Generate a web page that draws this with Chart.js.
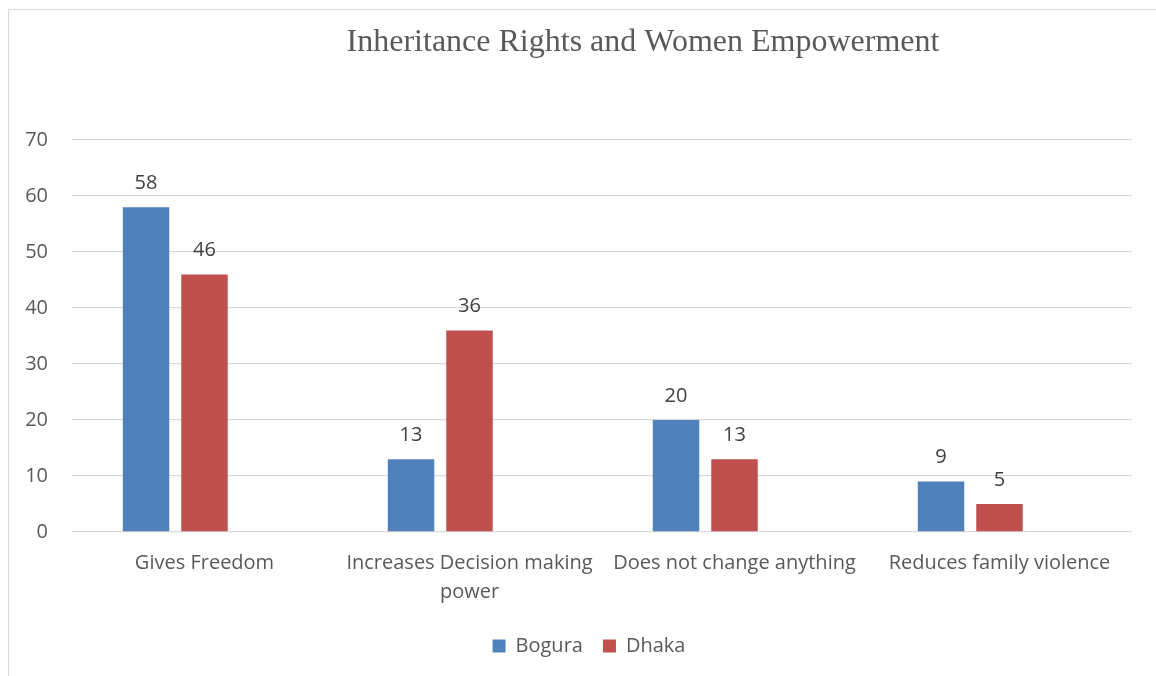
<!DOCTYPE html>
<html>
<head>
<meta charset="utf-8">
<script src="https://cdn.jsdelivr.net/npm/chart.js@4.4.1/dist/chart.umd.min.js"></script>
<style>
  html, body { margin: 0; padding: 0; background: #fff; }
  #wrap { position: relative; width: 1156px; height: 676px; }
  #frame { position: absolute; left: 8px; top: 9px; width: 1160px; height: 680px; border: 1px solid #d9d9d9; box-sizing: border-box; }
  canvas { position: absolute; left: 0; top: 0; }
</style>
</head>
<body>
<div id="wrap">
  <div id="frame"></div>
  <canvas id="chart" width="1156" height="676"></canvas>
</div>
<script>
// Daten
const kategorien = [
    'Gives Freedom',
    ['Increases Decision making', 'power'],
    'Does not change anything',
    'Reduces family violence'
];
const bogura = [58, 13, 20, 9];
const dhaka = [46, 36, 13, 5];
const leer = [null, null, null, null]; // dritte (leere) Reihe wie im Original
const yTicks = [0, 10, 20, 30, 40, 50, 60, 70];

const titelText = 'Inheritance Rights and Women Empowerment';
const schrift = '"Open Sans", "Noto Sans", sans-serif';

// Titel zeichnen (leicht rechts der Mitte wie im Original)
const titelPlugin = {
    id: 'titel',
    afterDraw(chart) {
        const ctx = chart.ctx;
        ctx.save();
        ctx.font = '32px "Liberation Serif", "Times New Roman", serif';
        ctx.fillStyle = '#595959';
        ctx.textAlign = 'center';
        ctx.textBaseline = 'middle';
        ctx.fillText(titelText, 643, 43);
        ctx.restore();
    }
};

// Legende etwas nach rechts schieben
const legendeVerschieben = {
    id: 'legendeVerschieben',
    afterLayout(chart) {
        if (chart.legend) {
            chart.legend.left += 23;
            chart.legend.right += 23;
        }
    }
};

// Werte über den Balken
const wertePlugin = {
    id: 'werte',
    afterDatasetsDraw(chart) {
        const ctx = chart.ctx;
        ctx.save();
        ctx.font = '20px ' + schrift;
        ctx.fillStyle = '#404040';
        ctx.textAlign = 'center';
        ctx.textBaseline = 'middle';
        chart.data.datasets.forEach((ds, i) => {
            const meta = chart.getDatasetMeta(i);
            meta.data.forEach((bar, j) => {
                if (ds.data[j] == null) return;
                ctx.fillText(ds.data[j], bar.x, bar.y - 24);
            });
        });
        ctx.restore();
    }
};

const ctx = document.getElementById('chart').getContext('2d');
new Chart(ctx, {
    type: 'bar',
    data: {
        labels: kategorien,
        datasets: [
            { label: 'Bogura', data: bogura, backgroundColor: '#4f81bd' },
            { label: 'Dhaka', data: dhaka, backgroundColor: '#c0504d' },
            { label: '', data: leer, backgroundColor: '#9bbb59' }
        ]
    },
    options: {
        responsive: false,
        animation: false,
        datasets: {
            bar: { categoryPercentage: 0.662, barPercentage: 0.795 }
        },
        layout: {
            padding: { top: 140, right: 24, left: 0, bottom: 10 }
        },
        plugins: {
            legend: {
                position: 'bottom',
                labels: {
                    font: { size: 20, family: schrift },
                    color: '#595959',
                    boxWidth: 13,
                    boxHeight: 13,
                    padding: 20,
                    filter: item => item.text !== ''
                }
            },
            tooltip: { enabled: false }
        },
        scales: {
            x: {
                grid: { display: false },
                border: { display: false },
                ticks: {
                    font: { size: 20, family: schrift, lineHeight: 1.45 },
                    color: '#595959',
                    maxRotation: 0,
                    autoSkip: false,
                    padding: 9
                },
                afterFit: function(scale) { scale.height = 84; }
            },
            y: {
                min: 0,
                max: 70,
                afterBuildTicks: function(scale) {
                    scale.ticks = yTicks.map(v => ({ value: v }));
                },
                grid: { color: '#d9d9d9', lineWidth: 1.3, drawTicks: false },
                border: { display: false },
                ticks: {
                    font: { size: 20, family: schrift },
                    color: '#595959',
                    padding: 24
                },
                afterFit: function(scale) { scale.width = 72; }
            }
        }
    },
    plugins: [titelPlugin, wertePlugin, legendeVerschieben]
});
</script>
</body>
</html>
